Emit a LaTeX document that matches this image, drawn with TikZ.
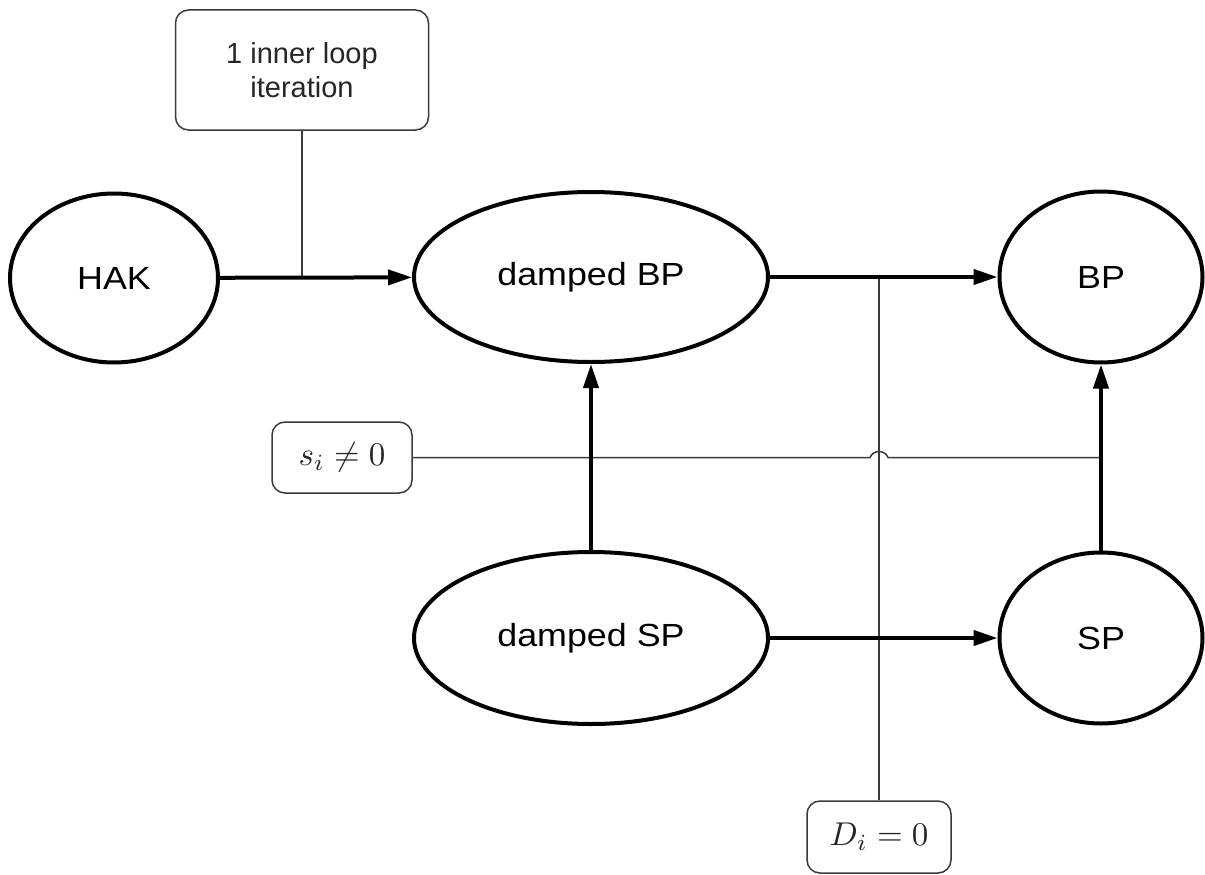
\documentclass[tikz,border=0pt]{standalone}
\usepackage{graphicx}
\usepackage{fontspec}
\setmainfont{Liberation Sans}
\newfontfamily\statefam[FakeStretch=1.12]{Liberation Sans}
\usetikzlibrary{shapes.geometric,arrows.meta}
\definecolor{wiregray}{HTML}{3A3A3A}
\newcommand{\bigmath}[1]{\scalebox{3.3}{$#1$}}
\begin{document}
\begin{tikzpicture}[x=1pt,y=-1pt,
  state/.style={ellipse,draw=black,line width=4pt,inner sep=0pt,
    font=\statefam\fontsize{32}{36}\selectfont},
  flow/.style={line width=4pt,-{Triangle[length=24pt,width=15pt]}},
  wire/.style={line width=1.5pt,draw=wiregray},
  cond/.style={draw=wiregray,line width=1.5pt,rounded corners=13pt,inner sep=2pt,
    text=black!85}
]
\useasboundingbox (0,0) rectangle (1205,875);
% states
\node[state,minimum width=208pt,minimum height=169pt] (hak) at (114,278) {HAK};
\node[state,minimum width=354pt,minimum height=170pt] (dbp) at (591,277) {damped BP};
\node[state,minimum width=203pt,minimum height=171pt] (bp)  at (1101,277) {BP};
\node[state,minimum width=354pt,minimum height=172pt] (dsp) at (591,638) {damped SP};
\node[state,minimum width=203pt,minimum height=171pt] (sp)  at (1101,638) {SP};
% condition boxes
\node[cond,minimum width=253pt,minimum height=120pt,align=center,
  font=\fontsize{29}{34}\selectfont] (iter) at (302,70) {1 inner loop\\iteration};
\node[cond,minimum width=140pt,minimum height=71pt] (si) at (342,457.5) {\bigmath{s_i \neq 0}};
\node[cond,minimum width=144pt,minimum height=72pt] (di) at (879,837) {\bigmath{D_i = 0}};
% thin connectors
\draw[wire] (iter.south) -- (iter.south |- hak);
\draw[wire] (di.north) -- (di.north |- dbp);
\coordinate (jmp) at (di.north |- si.east);
\draw[wire] (si.east) -- ([xshift=-9pt]jmp)
  .. controls +(3,-8) and +(-3,-8) .. ([xshift=9pt]jmp)
  -- (si.east -| sp);
% flows
\draw[flow] (hak) -- (dbp);
\draw[flow] (dbp) -- (bp);
\draw[flow] (dsp) -- (dbp);
\draw[flow] (sp) -- (bp);
\draw[flow] (dsp) -- (sp);
\end{tikzpicture}
\end{document}
